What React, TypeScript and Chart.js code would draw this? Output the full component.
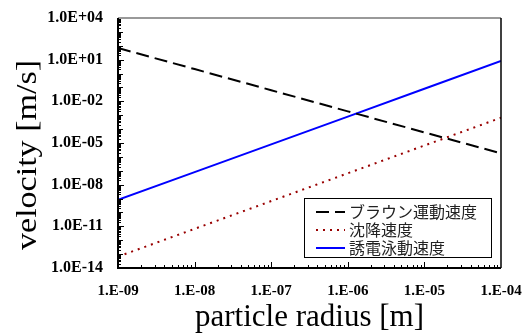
import React, { useEffect, useRef } from 'react';
import { Chart, registerables } from 'chart.js';
Chart.register(...registerables);

const radius = [1e-9, 1e-8, 1e-7, 1e-6, 1e-5, 1e-4];
const brownian = [69, 2.1, 0.063, 1.9e-3, 5.8e-5, 1.8e-6];
const settling = [6.6e-14, 6.6e-12, 6.6e-10, 6.6e-8, 6.6e-6, 6.6e-4];
const dielectro = [8e-10, 8e-8, 8e-6, 8e-4, 8e-2, 8];
const seriesLabels = ['ブラウン運動速度', '沈降速度', '誘電泳動速度'];
const xTicks = [1e-9, 1e-8, 1e-7, 1e-6, 1e-5, 1e-4];
const yTicks = [1e4, 1e1, 1e-2, 1e-5, 1e-8, 1e-11, 1e-14];
const xTitle = 'particle radius [m]';
const yTitle = 'velocity [m/s]';

const expLabel = (v: number, mant: string) => {
  const e = Math.round(Math.log10(v));
  const s = e < 0 ? '-' : '+';
  return `${mant}E${s}${String(Math.abs(e)).padStart(2, '0')}`;
};

const W = 524;
const H = 333;

const decorPlugin = {
  id: 'decor',
  afterDraw(chart: any) {
    const { ctx, chartArea: a, scales } = chart;
    const xs = scales.x;
    const ys = scales.y;
    ctx.save();
    ctx.strokeStyle = '#000';
    ctx.lineWidth = 1;
    ctx.setLineDash([]);
    for (let d = -9; d < -4; d++) {
      for (let k = 1; k <= 9; k++) {
        const v = k * Math.pow(10, d);
        const px = Math.round(xs.getPixelForValue(v)) + 0.5;
        const len = k === 1 ? 6 : 3;
        ctx.beginPath();
        ctx.moveTo(px, a.bottom);
        ctx.lineTo(px, a.bottom - len);
        ctx.stroke();
      }
    }
    for (let d = -14; d < 4; d++) {
      for (let k = 1; k <= 9; k++) {
        const v = k * Math.pow(10, d);
        const py = Math.round(ys.getPixelForValue(v)) + 0.5;
        const len = k === 1 ? (((d + 14) % 3 === 0) ? 6 : 5) : 3;
        ctx.beginPath();
        ctx.moveTo(a.left, py);
        ctx.lineTo(a.left + len, py);
        ctx.stroke();
      }
    }
    ctx.lineWidth = 1.5;
    ctx.strokeStyle = '#777';
    ctx.beginPath();
    ctx.moveTo(a.left, a.top);
    ctx.lineTo(a.right, a.top);
    ctx.stroke();
    ctx.strokeStyle = '#000';
    ctx.beginPath();
    ctx.moveTo(a.right, a.top);
    ctx.lineTo(a.right, a.bottom);
    ctx.stroke();
    ctx.lineWidth = 2;
    ctx.beginPath();
    ctx.moveTo(a.left, a.top);
    ctx.lineTo(a.left, a.bottom);
    ctx.lineTo(a.right, a.bottom);
    ctx.stroke();

    // y-axis title (drawn here so it can be stretched along its length)
    ctx.save();
    ctx.translate(28, 155);
    ctx.rotate(-Math.PI / 2);
    ctx.font = '30px "Liberation Serif"';
    const tw = ctx.measureText(yTitle).width;
    ctx.scale(190 / tw, 1);
    ctx.fillStyle = '#000';
    ctx.textAlign = 'center';
    ctx.textBaseline = 'middle';
    ctx.fillText(yTitle, 0, 0);
    ctx.restore();

    const bx = 304.5, by = 198.5, bw = 187, bh = 59;
    ctx.fillStyle = '#fff';
    ctx.fillRect(bx, by, bw, bh);
    ctx.lineWidth = 1;
    ctx.strokeStyle = '#000';
    ctx.strokeRect(bx, by, bw, bh);
    const rows = [212, 230, 248];
    chart.data.datasets.forEach((ds: any, i: number) => {
      const y = rows[i];
      ctx.strokeStyle = ds.borderColor;
      ctx.lineWidth = ds.borderWidth;
      ctx.setLineDash(ds.borderDash || []);
      ctx.beginPath();
      ctx.moveTo(316, y);
      ctx.lineTo(345, y);
      ctx.stroke();
      ctx.setLineDash([]);
      ctx.fillStyle = '#222';
      ctx.font = '16px "Noto Sans CJK JP"';
      ctx.textBaseline = 'middle';
      ctx.textAlign = 'left';
      ctx.fillText(ds.label, 349, y);
    });
    ctx.restore();
  },
};

export default function App() {
  const ref = useRef<HTMLCanvasElement>(null);
  useEffect(() => {
    document.body.style.margin = '0';
    const canvas = ref.current!;
    const mk = (ys: number[]) => radius.map((x, i) => ({ x, y: ys[i] }));
    const chart = new Chart(canvas, {
      type: 'line',
      data: {
        datasets: [
          { label: seriesLabels[0], data: mk(brownian), borderColor: '#000', borderWidth: 2, borderDash: [13, 6], pointRadius: 0, fill: false },
          { label: seriesLabels[1], data: mk(settling), borderColor: '#990000', borderWidth: 2, borderDash: [2, 5], pointRadius: 0, fill: false },
          { label: seriesLabels[2], data: mk(dielectro), borderColor: '#0000FF', borderWidth: 2, pointRadius: 0, fill: false },
        ],
      },
      options: {
        responsive: false,
        animation: false,
        events: [],
        layout: { padding: { top: 18, right: 23, left: 0, bottom: 0 } },
        plugins: { legend: { display: false }, tooltip: { enabled: false } },
        scales: {
          x: {
            type: 'logarithmic',
            min: 1e-9,
            max: 1e-4,
            afterBuildTicks: (s: any) => { s.ticks = xTicks.map((v) => ({ value: v })); },
            afterFit: (s: any) => { s.height = H - 268; s.paddingLeft = 0; s.paddingRight = 0; },
            grid: { display: false, drawTicks: false },
            border: { display: false },
            ticks: {
              autoSkip: false,
              maxRotation: 0,
              padding: 14,
              color: '#000',
              font: { family: '"Liberation Serif"', size: 15, weight: 'bold' },
              callback: (v: any) => expLabel(Number(v), '1.'),
            },
            title: {
              display: true,
              text: xTitle,
              color: '#000',
              font: { family: '"Liberation Serif"', size: 31, lineHeight: 1 },
              padding: { top: 0, bottom: 0 },
            },
          },
          y: {
            type: 'logarithmic',
            min: 1e-14,
            max: 1e4,
            afterBuildTicks: (s: any) => { s.ticks = yTicks.map((v) => ({ value: v })); },
            afterFit: (s: any) => { s.width = 118; s.paddingTop = 0; s.paddingBottom = 0; },
            grid: { display: false, drawTicks: false },
            border: { display: false },
            ticks: {
              autoSkip: false,
              padding: 15,
              color: '#000',
              font: { family: '"Liberation Serif"', size: 16, weight: 'bold' },
              callback: (v: any) => expLabel(Number(v), '1.0'),
            },
            title: { display: false },
          },
        },
      },
      plugins: [decorPlugin],
    } as any);
    return () => chart.destroy();
  }, []);
  return <canvas ref={ref} width={W} height={H} style={{ display: 'block', width: W, height: H }} />;
}
